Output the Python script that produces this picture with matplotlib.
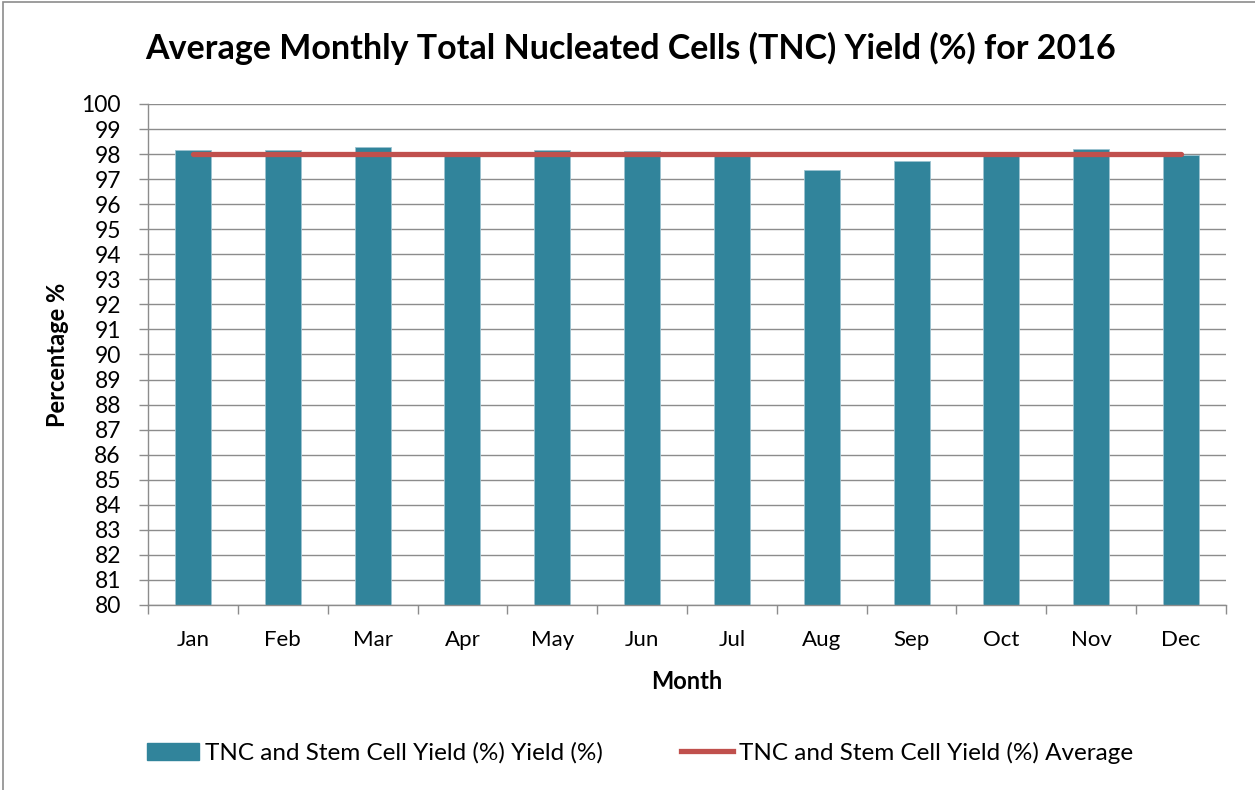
import numpy as np
import matplotlib.pyplot as plt
from matplotlib.patches import Rectangle, Patch
from matplotlib.lines import Line2D

months = ['Jan', 'Feb', 'Mar', 'Apr', 'May', 'Jun', 'Jul', 'Aug', 'Sep', 'Oct', 'Nov', 'Dec']
yield_pct = [98.16, 98.18, 98.28, 98.0, 98.15, 98.14, 98.0, 97.37, 97.71, 98.0, 98.2, 97.97]
average_pct = [98.02] * 12

bar_color = '#31849B'
line_color = '#C0504D'

plt.rcParams['font.family'] = ['Lato', 'DejaVu Sans']


def main():
    fig = plt.figure(figsize=(12.55, 7.9), dpi=100)
    W, H = 1255, 790
    ax = fig.add_axes([148 / W, (H - 605) / H, (1226 - 148) / W, (605 - 104) / H])

    x = np.arange(len(months))
    ax.bar(x, yield_pct, width=0.4, color=bar_color, edgecolor='#9cc3d0', linewidth=0.6, zorder=2)
    ax.plot(x, average_pct, color=line_color, lw=3.8, solid_capstyle='round', zorder=3)

    ax.set_xlim(-0.5, 11.5)
    ax.set_ylim(80, 100)
    ax.set_yticks(np.arange(80, 101, 1))
    ax.yaxis.grid(True, color='#8c8c8c', lw=1.0, zorder=0)
    ax.set_axisbelow(True)

    ax.set_xticks(x)
    ax.set_xticklabels(months, fontsize=16)
    ax.set_xticks(np.arange(-0.5, 12, 1), minor=True)
    ax.tick_params(axis='x', which='major', length=0, pad=18)
    ax.tick_params(axis='x', which='minor', length=6.5, color='#8c8c8c', width=1)
    ax.tick_params(axis='y', labelsize=16.5, length=6.5, color='#8c8c8c', width=1, pad=13)

    for side in ['top', 'right']:
        ax.spines[side].set_visible(False)
    for side in ['left', 'bottom']:
        ax.spines[side].set_color('#8c8c8c')
        ax.spines[side].set_linewidth(1)

    ax.set_ylabel('Percentage %', fontsize=17, fontweight='bold')
    ax.yaxis.set_label_coords(-0.0835, 0.5)
    ax.set_xlabel('Month', fontsize=17, fontweight='bold')
    ax.xaxis.set_label_coords(0.5, -0.152)
    ax.xaxis.label.set_va('center')
    ax.yaxis.label.set_va('center')

    fig.text(631 / W, 1 - 48 / H, 'Average Monthly Total Nucleated Cells (TNC) Yield (%) for 2016',
             ha='center', va='center', fontsize=24.5, fontweight='bold')

    handles = [Patch(facecolor=bar_color, edgecolor=bar_color),
               Line2D([0], [0], color=line_color, lw=3.8)]
    labels = ['TNC and Stem Cell Yield (%) Yield (%)', 'TNC and Stem Cell Yield (%) Average']
    fig.legend(handles, labels, loc='center left', bbox_to_anchor=(147 / W, 1 - 753 / H),
               ncol=2, frameon=False, fontsize=17.5, handlelength=2.15, handleheight=0.72,
               handletextpad=0.25, columnspacing=3.2, borderpad=0, borderaxespad=0)

    fig.patches.append(Rectangle((3 / W, -0.1), 1.2, 1 - 2 / H + 0.1, transform=fig.transFigure,
                                 fill=False, edgecolor='#8c8c8c', lw=1.2))

    fig.savefig('out.png', dpi=100)


if __name__ == '__main__':
    main()
